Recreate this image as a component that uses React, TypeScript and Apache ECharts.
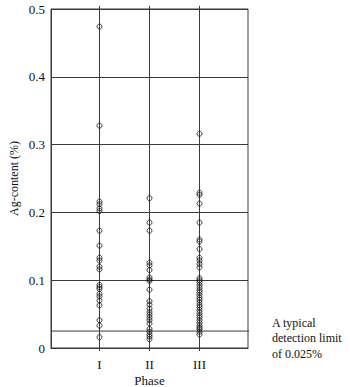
import React, { useEffect, useRef } from "react";
import * as echarts from "echarts";

const categories = ["I", "II", "III"];
const phaseI = [0.474, 0.328, 0.216, 0.212, 0.206, 0.202, 0.173, 0.151, 0.133, 0.129, 0.12, 0.116, 0.093, 0.09, 0.087, 0.08, 0.076, 0.07, 0.063, 0.041, 0.033, 0.016];
const phaseII = [0.221, 0.185, 0.173, 0.126, 0.122, 0.115, 0.104, 0.101, 0.099, 0.086, 0.069, 0.064, 0.058, 0.053, 0.049, 0.045, 0.041, 0.036, 0.028, 0.024, 0.02, 0.017, 0.013];
const phaseIII = [0.316, 0.229, 0.226, 0.213, 0.185, 0.16, 0.157, 0.146, 0.133, 0.129, 0.124, 0.119, 0.103, 0.1, 0.097, 0.093, 0.089, 0.085, 0.082, 0.078, 0.074, 0.071, 0.067, 0.063, 0.06, 0.056, 0.052, 0.048, 0.045, 0.041, 0.037, 0.033, 0.03, 0.028, 0.024, 0.02];
const phases = [phaseI, phaseII, phaseIII];
const detectionLimit = 0.025;
const detectionLabel = "A typical\ndetection limit\nof 0.025%";
const yMin = 0;
const yMax = 0.5;
const yInterval = 0.1;
const xMin = 0.03;
const xMax = 3.97;
const stemTop = 0.5045;
const detectionEnd = 4.31;

const FONT = '"Liberation Serif", "Times New Roman", serif';
const INK = "#111";
const LINE = "#3a3a3a";

export default function App() {
  const ref = useRef<HTMLDivElement>(null);
  useEffect(() => {
    if (!ref.current) return;
    const chart = echarts.init(ref.current, null, { renderer: "svg" });
    const stems = categories.map((c, i) => ({
      type: "line",
      data: [
        [i + 1, yMin],
        [i + 1, stemTop],
      ],
      clip: false,
      symbol: "none",
      silent: true,
      lineStyle: { color: LINE, width: 1 },
      z: 1,
    }));
    const scatters = phases.map((arr, i) => ({
      type: "scatter",
      name: categories[i],
      data: arr.map((v) => [i + 1, v]),
      symbol: "circle",
      symbolSize: 5,
      itemStyle: { color: "rgba(255,255,255,0)", borderColor: "#111", borderWidth: 1 },
      z: 3,
    }));
    chart.setOption({
      animation: false,
      textStyle: { fontFamily: FONT },
      grid: {
        left: 51,
        top: 9,
        width: 197,
        height: 339,
        containLabel: false,
        outerBoundsMode: "none",
        show: true,
        borderColor: LINE,
        borderWidth: 1,
        backgroundColor: "transparent",
      },
      xAxis: {
        type: "value",
        min: xMin,
        max: xMax,
        name: "Phase",
        nameLocation: "middle",
        nameGap: 26,
        nameMoveOverlap: false,
        nameTextStyle: { fontFamily: FONT, fontSize: 13, color: INK },
        axisLine: { show: true, lineStyle: { color: LINE } },
        axisTick: { show: true, length: 3, customValues: [1, 2, 3], lineStyle: { color: LINE } },
        axisLabel: {
          customValues: [1, 2, 3],
          formatter: (v: number) => categories[Math.round(v) - 1] ?? "",
          fontFamily: FONT,
          fontSize: 13,
          color: INK,
          margin: 10,
        },
        splitLine: { show: false },
      },
      yAxis: {
        type: "value",
        min: yMin,
        max: yMax,
        interval: yInterval,
        name: "Ag-content (%)",
        nameLocation: "middle",
        nameGap: 31,
        nameMoveOverlap: false,
        nameTextStyle: { fontFamily: FONT, fontSize: 12, color: INK },
        axisLine: { show: true, lineStyle: { color: LINE } },
        axisTick: { show: false },
        axisLabel: {
          fontFamily: FONT,
          fontSize: 13,
          color: INK,
          margin: 6,
          formatter: (v: number) => (v === 0 ? "0" : v.toFixed(1)),
        },
        splitLine: { show: true, lineStyle: { color: LINE, width: 1 } },
      },
      series: [
        ...stems,
        {
          type: "line",
          data: [
            [xMin, detectionLimit],
            [detectionEnd, detectionLimit],
          ],
          clip: false,
          symbol: "none",
          silent: true,
          lineStyle: { color: LINE, width: 1 },
          z: 1,
        },
        ...scatters,
      ],
      graphic: [
        {
          type: "text",
          left: 272,
          top: 315,
          style: {
            text: detectionLabel,
            font: `12px ${FONT}`,
            fill: INK,
            lineHeight: 15.5,
          },
        },
      ],
    });
    return () => chart.dispose();
  }, []);
  return (
    <div
      ref={ref}
      style={{ position: "fixed", left: 0, top: 0, width: 350, height: 387, background: "#fff" }}
    />
  );
}
